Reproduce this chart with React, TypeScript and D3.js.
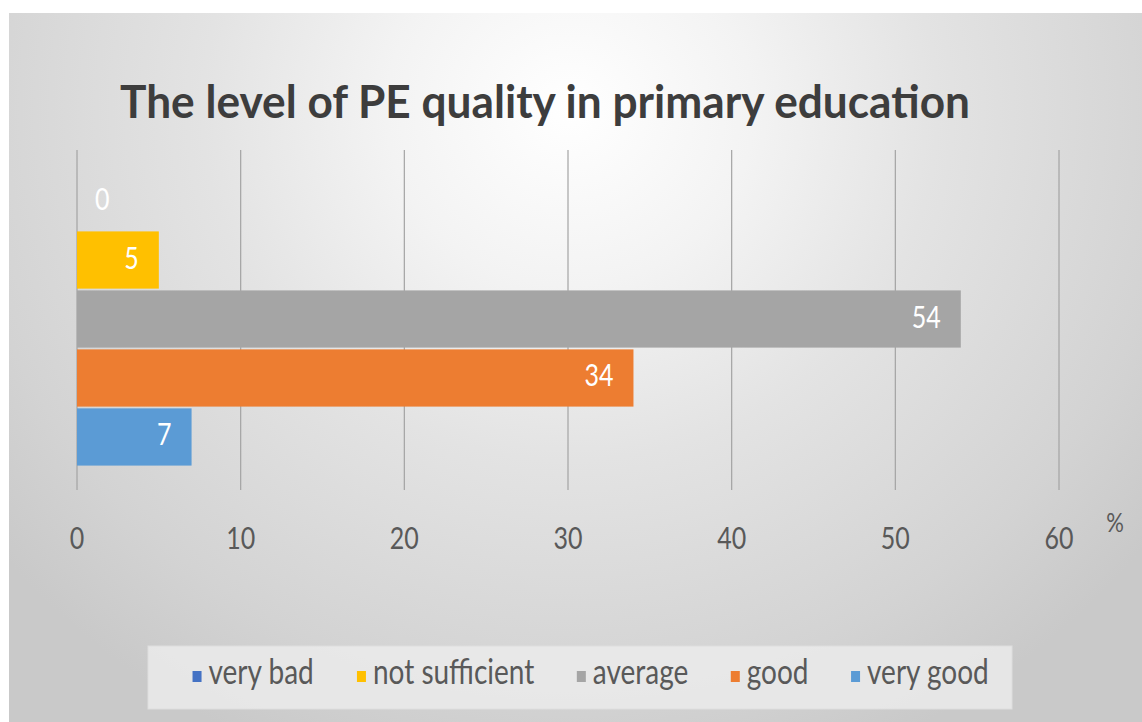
import React, { useMemo } from "react";
import * as d3 from "d3";

const categories = ["very bad", "not sufficient", "average", "good", "very good"];
const values = [0, 5, 54, 34, 7];
const colors = ["#4472C4", "#FFC000", "#A5A5A5", "#ED7D31", "#5B9BD5"];
const xTicks = [0, 10, 20, 30, 40, 50, 60];
const title = "The level of PE quality in primary education";
const unitLabel = "%";

const W = 1142;
const H = 722;
const VS = 1.25; // vertical stretch of text
const FONT = "Lato, 'Open Sans', sans-serif";

function measure(text: string, font: string): number {
  if (typeof document === "undefined") return text.length * 14;
  const c = document.createElement("canvas");
  const ctx = c.getContext("2d");
  if (!ctx) return text.length * 14;
  ctx.font = font;
  return ctx.measureText(text).width;
}

const T = (p: {
  x: number; y: number; anchor?: string; size: number; fill: string; weight?: string | number;
  textLength?: number; children: React.ReactNode;
}) => (
  <text
    transform={`translate(${p.x},${p.y}) scale(1,${VS})`}
    textAnchor={p.anchor || "start"}
    fontSize={p.size}
    fill={p.fill}
    fontWeight={p.weight || "normal"}
    fontFamily={FONT}
    textLength={p.textLength}
    lengthAdjust={p.textLength ? "spacingAndGlyphs" : undefined}
  >
    {p.children}
  </text>
);

export default function App() {
  const x = d3.scaleLinear().domain([0, 60]).range([77, 1059]);
  const y = d3.scaleBand<string>().domain(categories).range([150, 488]).paddingInner(0.03).paddingOuter(0.38);

  const legendFontSize = 28;
  const legend = useMemo(() => {
    const widths = categories.map((c) => measure(c, `${legendFontSize}px Lato`));
    const markerW = 16;
    const gap = 42.5;
    const total = widths.reduce((a, b) => a + b, 0) + categories.length * markerW + (categories.length - 1) * gap;
    let cur = 591 - total / 2;
    return categories.map((c, i) => {
      const item = { c, x: cur, w: widths[i], color: colors[i] };
      cur += markerW + widths[i] + gap;
      return item;
    });
  }, []);

  return (
    <svg width={W} height={H} style={{ position: "absolute", left: 0, top: 0, background: "#fff" }}>
      <defs>
        <radialGradient id="bg" gradientUnits="userSpaceOnUse" cx={570} cy={110} r={700}
          gradientTransform="translate(570,110) scale(1.05,1) translate(-570,-110)">
          <stop offset="0" stopColor="#ffffff" />
          <stop offset="0.25" stopColor="#f3f3f3" />
          <stop offset="0.5" stopColor="#e3e3e3" />
          <stop offset="0.83" stopColor="#d3d3d3" />
          <stop offset="1" stopColor="#c9c9c9" />
        </radialGradient>
      </defs>
      <rect x={9} y={13} width={W - 9} height={H - 13} fill="url(#bg)" />

      <T x={545} y={118} anchor="middle" size={37} fill="#3d3d3d" weight="bold" textLength={850}>
        {title}
      </T>

      {xTicks.map((t) => (
        <line key={"g" + t} x1={x(t)} x2={x(t)} y1={150} y2={490} stroke="#a3a3a3" strokeWidth={1.2} />
      ))}

      {categories.map((c, i) => (
        <rect key={"b" + c} x={x(0)} y={y(c)!} width={x(values[i]) - x(0)} height={y.bandwidth()} fill={colors[i]} />
      ))}

      {categories.map((c, i) => {
        const cy = y(c)! + y.bandwidth() / 2 + 8.5;
        const v = values[i];
        return v === 0 ? (
          <T key={"l" + c} x={x(0) + 18} y={cy} size={25} fill="#ffffff">{String(v)}</T>
        ) : (
          <T key={"l" + c} x={x(v) - 20} y={cy} anchor="end" size={25} fill="#ffffff">{String(v)}</T>
        );
      })}

      {xTicks.map((t) => (
        <T key={"t" + t} x={x(t)} y={549} anchor="middle" size={25} fill="#595959">{String(t)}</T>
      ))}
      <T x={1115} y={532} anchor="middle" size={22} fill="#595959">{unitLabel}</T>

      <rect x={148} y={646} width={864} height={63} fill="#ebebeb" fillOpacity={0.85} stroke="#dedede" strokeWidth={1} />
      {legend.map((it) => (
        <g key={"lg" + it.c}>
          <rect x={it.x} y={671} width={9} height={11} fill={it.color} />
          <T x={it.x + 16} y={684} size={legendFontSize} fill="#595959">{it.c}</T>
        </g>
      ))}
    </svg>
  );
}
